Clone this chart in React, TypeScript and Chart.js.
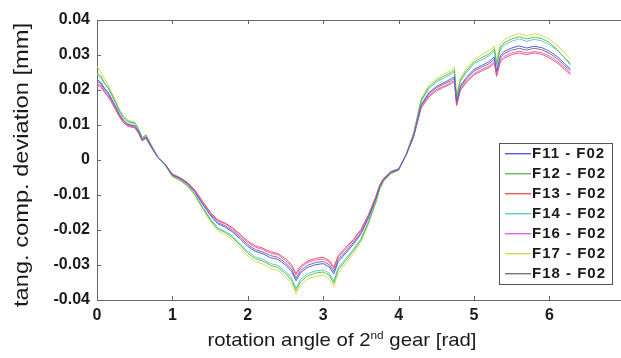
import { useEffect, useRef } from "react";
import { Chart, registerables } from "chart.js";
Chart.register(...registerables);

const xValues = [0, 0.05, 0.1, 0.15, 0.2, 0.25, 0.3, 0.35, 0.4, 0.45, 0.5, 0.55, 0.6, 0.65, 0.7, 0.8, 0.9, 1.0, 1.1, 1.2, 1.3, 1.4, 1.5, 1.6, 1.7, 1.8, 1.9, 2.0, 2.1, 2.2, 2.3, 2.4, 2.5, 2.58, 2.64, 2.7, 2.8, 2.9, 3.0, 3.08, 3.14, 3.2, 3.3, 3.4, 3.5, 3.6, 3.7, 3.75, 3.8, 3.9, 4.0, 4.1, 4.2, 4.3, 4.4, 4.5, 4.6, 4.7, 4.74, 4.77, 4.82, 4.9, 5.0, 5.1, 5.2, 5.27, 5.3, 5.35, 5.4, 5.5, 5.6, 5.7, 5.8, 5.9, 6.0, 6.1, 6.2, 6.28];

const f11 = [0.0230, 0.0222, 0.0205, 0.0192, 0.0172, 0.0152, 0.0130, 0.0114, 0.0104, 0.0100, 0.0098, 0.0082, 0.0058, 0.0066, 0.0046, 0.0010, -0.0012, -0.0043, -0.0053, -0.0068, -0.0092, -0.0126, -0.0157, -0.0182, -0.0192, -0.0206, -0.0226, -0.0247, -0.0261, -0.0268, -0.0279, -0.0284, -0.0300, -0.0318, -0.0345, -0.0322, -0.0306, -0.0299, -0.0296, -0.0305, -0.0326, -0.0290, -0.0266, -0.0241, -0.0212, -0.0166, -0.0110, -0.0076, -0.0056, -0.0035, -0.0027, 0.0015, 0.0070, 0.0158, 0.0192, 0.0210, 0.0221, 0.0232, 0.0238, 0.0165, 0.0212, 0.0236, 0.0259, 0.0270, 0.0281, 0.0294, 0.0254, 0.0298, 0.0310, 0.0320, 0.0326, 0.0320, 0.0325, 0.0321, 0.0311, 0.0296, 0.0276, 0.0260];
const f12 = [0.0248, 0.0240, 0.0221, 0.0207, 0.0186, 0.0164, 0.0140, 0.0123, 0.0112, 0.0108, 0.0106, 0.0089, 0.0063, 0.0071, 0.0050, 0.0011, -0.0013, -0.0046, -0.0057, -0.0073, -0.0099, -0.0136, -0.0170, -0.0197, -0.0207, -0.0222, -0.0244, -0.0267, -0.0282, -0.0289, -0.0301, -0.0307, -0.0324, -0.0343, -0.0373, -0.0348, -0.0330, -0.0323, -0.0320, -0.0329, -0.0352, -0.0313, -0.0287, -0.0260, -0.0229, -0.0179, -0.0119, -0.0082, -0.0060, -0.0038, -0.0029, 0.0016, 0.0076, 0.0171, 0.0207, 0.0227, 0.0239, 0.0251, 0.0257, 0.0178, 0.0229, 0.0255, 0.0280, 0.0292, 0.0303, 0.0318, 0.0274, 0.0322, 0.0335, 0.0346, 0.0352, 0.0346, 0.0351, 0.0347, 0.0336, 0.0316, 0.0292, 0.0272];
const f13 = [0.0216, 0.0209, 0.0193, 0.0180, 0.0162, 0.0143, 0.0122, 0.0107, 0.0098, 0.0094, 0.0092, 0.0077, 0.0055, 0.0062, 0.0043, 0.0009, -0.0011, -0.0040, -0.0050, -0.0064, -0.0086, -0.0118, -0.0148, -0.0171, -0.0180, -0.0194, -0.0212, -0.0232, -0.0245, -0.0252, -0.0262, -0.0267, -0.0282, -0.0299, -0.0324, -0.0303, -0.0288, -0.0281, -0.0278, -0.0287, -0.0306, -0.0273, -0.0250, -0.0227, -0.0199, -0.0156, -0.0103, -0.0071, -0.0053, -0.0033, -0.0025, 0.0014, 0.0066, 0.0149, 0.0180, 0.0197, 0.0208, 0.0218, 0.0224, 0.0155, 0.0199, 0.0222, 0.0243, 0.0254, 0.0264, 0.0276, 0.0239, 0.0280, 0.0291, 0.0301, 0.0306, 0.0301, 0.0306, 0.0302, 0.0292, 0.0278, 0.0259, 0.0244];
const f14 = [0.0244, 0.0235, 0.0217, 0.0204, 0.0182, 0.0161, 0.0138, 0.0121, 0.0110, 0.0106, 0.0104, 0.0087, 0.0061, 0.0070, 0.0049, 0.0011, -0.0013, -0.0046, -0.0056, -0.0072, -0.0098, -0.0134, -0.0166, -0.0193, -0.0204, -0.0218, -0.0240, -0.0262, -0.0277, -0.0284, -0.0296, -0.0301, -0.0318, -0.0337, -0.0366, -0.0341, -0.0324, -0.0317, -0.0314, -0.0323, -0.0346, -0.0307, -0.0282, -0.0255, -0.0225, -0.0176, -0.0117, -0.0081, -0.0059, -0.0037, -0.0029, 0.0016, 0.0074, 0.0167, 0.0204, 0.0223, 0.0234, 0.0246, 0.0252, 0.0175, 0.0225, 0.0250, 0.0275, 0.0286, 0.0298, 0.0312, 0.0269, 0.0316, 0.0329, 0.0339, 0.0346, 0.0339, 0.0345, 0.0340, 0.0330, 0.0314, 0.0293, 0.0276];
const f16 = [0.0220, 0.0212, 0.0196, 0.0183, 0.0164, 0.0145, 0.0124, 0.0109, 0.0099, 0.0096, 0.0094, 0.0078, 0.0055, 0.0063, 0.0044, 0.0010, -0.0011, -0.0041, -0.0051, -0.0065, -0.0088, -0.0120, -0.0150, -0.0174, -0.0183, -0.0197, -0.0216, -0.0236, -0.0249, -0.0256, -0.0266, -0.0271, -0.0287, -0.0304, -0.0329, -0.0308, -0.0292, -0.0286, -0.0283, -0.0291, -0.0311, -0.0277, -0.0254, -0.0230, -0.0202, -0.0159, -0.0105, -0.0073, -0.0053, -0.0033, -0.0026, 0.0014, 0.0067, 0.0151, 0.0183, 0.0201, 0.0211, 0.0222, 0.0227, 0.0158, 0.0202, 0.0225, 0.0247, 0.0258, 0.0268, 0.0281, 0.0243, 0.0285, 0.0296, 0.0306, 0.0311, 0.0306, 0.0310, 0.0307, 0.0297, 0.0283, 0.0264, 0.0248];
const f17 = [0.0268, 0.0252, 0.0232, 0.0214, 0.0191, 0.0169, 0.0144, 0.0127, 0.0115, 0.0111, 0.0109, 0.0091, 0.0064, 0.0073, 0.0051, 0.0011, -0.0013, -0.0048, -0.0059, -0.0075, -0.0102, -0.0140, -0.0174, -0.0202, -0.0213, -0.0229, -0.0251, -0.0274, -0.0290, -0.0297, -0.0310, -0.0315, -0.0333, -0.0353, -0.0383, -0.0357, -0.0340, -0.0332, -0.0329, -0.0339, -0.0362, -0.0322, -0.0295, -0.0268, -0.0235, -0.0184, -0.0122, -0.0084, -0.0062, -0.0039, -0.0030, 0.0017, 0.0078, 0.0175, 0.0213, 0.0233, 0.0245, 0.0258, 0.0264, 0.0183, 0.0235, 0.0262, 0.0287, 0.0300, 0.0312, 0.0326, 0.0282, 0.0331, 0.0344, 0.0355, 0.0362, 0.0355, 0.0361, 0.0356, 0.0345, 0.0329, 0.0306, 0.0289];
const f18 = [0.0225, 0.0218, 0.0201, 0.0188, 0.0169, 0.0149, 0.0127, 0.0112, 0.0102, 0.0098, 0.0096, 0.0080, 0.0057, 0.0065, 0.0045, 0.0010, -0.0012, -0.0042, -0.0052, -0.0067, -0.0090, -0.0123, -0.0154, -0.0178, -0.0188, -0.0202, -0.0221, -0.0242, -0.0256, -0.0263, -0.0273, -0.0278, -0.0294, -0.0312, -0.0338, -0.0316, -0.0300, -0.0293, -0.0290, -0.0299, -0.0319, -0.0284, -0.0261, -0.0236, -0.0208, -0.0163, -0.0108, -0.0074, -0.0055, -0.0034, -0.0026, 0.0015, 0.0069, 0.0155, 0.0188, 0.0206, 0.0217, 0.0227, 0.0233, 0.0162, 0.0208, 0.0231, 0.0254, 0.0265, 0.0275, 0.0288, 0.0249, 0.0292, 0.0304, 0.0314, 0.0319, 0.0314, 0.0319, 0.0315, 0.0305, 0.0290, 0.0270, 0.0255];

const seriesLabels = ["F11 - F02", "F12 - F02", "F13 - F02", "F14 - F02", "F16 - F02", "F17 - F02", "F18 - F02"];
const seriesValues = [f11, f12, f13, f14, f16, f17, f18];
const seriesColors = ["#5a5aee", "#5cbf5c", "#ee5a5a", "#5ccccc", "#ee5cee", "#dada4a", "#777777"];

const xTitleMain = "rotation angle of 2";
const xTitleSup = "nd";
const xTitleEnd = " gear [rad]";
const yTitle = "tang. comp. deviation [mm]";

const FONT = "'Liberation Sans', Arial, Helvetica, sans-serif";

const decorPlugin = {
  id: "decor",
  afterDraw(chart: any) {
    const { ctx, chartArea: a, scales } = chart;
    const xs = scales.x;
    const ys = scales.y;
    ctx.save();
    ctx.strokeStyle = "#666666";
    ctx.lineWidth = 1;
    ctx.beginPath();
    ctx.moveTo(a.left, Math.round(a.top) + 0.5);
    ctx.lineTo(a.right, Math.round(a.top) + 0.5);
    xs.ticks.forEach((t: any) => {
      const px = Math.round(xs.getPixelForValue(t.value)) + 0.5;
      ctx.moveTo(px, a.bottom);
      ctx.lineTo(px, a.bottom - 4);
      ctx.moveTo(px, a.top);
      ctx.lineTo(px, a.top + 4);
    });
    ys.ticks.forEach((t: any) => {
      const py = Math.round(ys.getPixelForValue(t.value)) + 0.5;
      ctx.moveTo(a.left, py);
      ctx.lineTo(a.left + 4, py);
    });
    ctx.stroke();

    // legend
    const lx = 499.5, ly = 143.5, lw = 113, lh = 141;
    ctx.fillStyle = "#ffffff";
    ctx.fillRect(lx, ly, lw, lh);
    ctx.strokeStyle = "#555555";
    ctx.strokeRect(lx, ly, lw, lh);
    seriesLabels.forEach((label, i) => {
      const cy = 153 + i * 20;
      ctx.fillStyle = seriesColors[i];
      ctx.fillRect(505, cy, 26, 1.4);
    });
    ctx.font = `bold 15px ${FONT}`;
    ctx.textBaseline = "middle";
    ctx.textAlign = "left";
    ctx.fillStyle = "#1a1a1a";
    try { (ctx as any).letterSpacing = "1px"; } catch (e) {}
    seriesLabels.forEach((label, i) => {
      const cy = 153 + i * 20;
      ctx.fillText(label, 532, cy + 1);
    });
    try { (ctx as any).letterSpacing = "0px"; } catch (e) {}

    // x title with superscript
    ctx.fillStyle = "#1a1a1a";
    ctx.textBaseline = "alphabetic";
    const big = `19px ${FONT}`;
    const small = `11px ${FONT}`;
    ctx.font = big;
    const w1 = ctx.measureText(xTitleMain).width;
    const w3 = ctx.measureText(xTitleEnd).width;
    ctx.font = small;
    const w2 = ctx.measureText(xTitleSup).width;
    const total = w1 + w2 + w3;
    const target = 269;
    const s = target / total;
    ctx.save();
    ctx.translate(342 - target / 2, 346);
    ctx.scale(s, 1);
    ctx.font = big;
    ctx.fillText(xTitleMain, 0, 0);
    ctx.font = small;
    ctx.fillText(xTitleSup, w1, -7);
    ctx.font = big;
    ctx.fillText(xTitleEnd, w1 + w2, 0);
    ctx.restore();

    // y title
    ctx.save();
    ctx.font = `20px ${FONT}`;
    const yw = ctx.measureText(yTitle).width;
    const ytarget = 284;
    ctx.translate(27.5, 165);
    ctx.rotate(-Math.PI / 2);
    ctx.scale(ytarget / yw, 1);
    ctx.textAlign = "center";
    ctx.fillText(yTitle, 0, 0);
    ctx.restore();

    ctx.restore();
  },
};

export default function App() {
  const ref = useRef<HTMLCanvasElement | null>(null);
  useEffect(() => {
    if (!ref.current) return;
    const chart = new Chart(ref.current, {
      type: "line",
      data: {
        datasets: seriesLabels.map((label, i) => ({
          label,
          data: xValues.map((x, j) => ({ x, y: seriesValues[i][j] })),
          borderColor: seriesColors[i],
          backgroundColor: seriesColors[i],
          borderWidth: 1,
          pointRadius: 0,
          tension: 0,
          fill: false,
        })),
      },
      options: {
        responsive: false,
        animation: false,
        devicePixelRatio: 1,
        layout: { padding: { top: 20, left: 0, right: 0, bottom: 0 } },
        plugins: { legend: { display: false }, tooltip: { enabled: false } },
        scales: {
          x: {
            type: "linear",
            min: 0,
            max: 6.95,
            grid: { display: false, drawTicks: false },
            border: { display: true, color: "#666666", width: 1 },
            ticks: {
              stepSize: 1,
              includeBounds: false,
              padding: 6,
              color: "#1a1a1a",
              font: { family: FONT, size: 16, weight: "bold" },
              maxRotation: 0,
            },
            afterFit: (scale: any) => { scale.height = 58; },
          },
          y: {
            type: "linear",
            min: -0.04,
            max: 0.04,
            grid: { display: false, drawTicks: false },
            border: { display: true, color: "#666666", width: 1 },
            ticks: {
              stepSize: 0.01,
              padding: 7,
              color: "#1a1a1a",
              font: { family: FONT, size: 16, weight: "bold" },
              callback: (v: any) => {
                const n = Number(v);
                if (Math.abs(n) < 1e-9) return "0";
                return n.toFixed(2);
              },
            },
            afterFit: (scale: any) => { scale.width = 97; },
          },
        },
      },
      plugins: [decorPlugin],
    });
    return () => chart.destroy();
  }, []);
  return (
    <div style={{ position: "absolute", left: 0, top: 0, width: 621, height: 358, background: "#fff" }}>
      <canvas ref={ref} width={621} height={358} />
    </div>
  );
}
